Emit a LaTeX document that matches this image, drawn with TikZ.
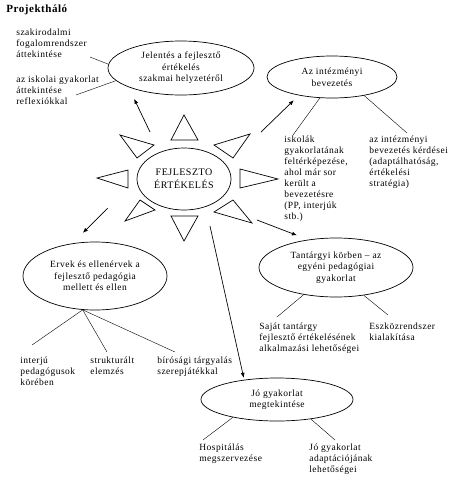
\documentclass[tikz,border=0pt]{standalone}
\usepackage{fontspec}
\setmainfont{Liberation Serif}[LetterSpace=5]
\usetikzlibrary{arrows.meta,shapes.geometric}

\begin{document}
\begin{tikzpicture}[x=1pt, y=-1pt, line width=0.7pt,
    bubble/.style={draw, ellipse, inner sep=0pt, align=center, font=\fontsize{9.5}{11.5}\selectfont},
    leaf/.style={anchor=north west, inner sep=0pt, align=left, font=\fontsize{9.5}{11}\selectfont},
    arr/.style={-{Latex[length=5pt, width=4pt]}}]
    \useasboundingbox (0,0) rectangle (455,480);

    % Title
    \node[anchor=west, inner sep=0pt, font=\fontsize{11}{13}\selectfont\bfseries] (title) at (6, 10) {Projektháló};

    % Ellipses
    \node[bubble, minimum width=146pt, minimum height=54pt] (jel) at (181, 68) {Jelentés a fejlesztő\\értékelés\\szakmai helyzetéről};
    \node[bubble, minimum width=130pt, minimum height=42pt] (intz) at (332, 77) {Az intézményi\\bevezetés};
    \node[bubble, minimum width=94pt, minimum height=62pt, font=\fontsize{10}{13}\selectfont] (sun) at (184, 179) {FEJLESZTO\\ÉRTÉKELÉS};
    \node[bubble, minimum width=144pt, minimum height=68pt] (erv) at (95, 276) {Ervek és ellenérvek a\\fejlesztő pedagógia\\mellett és ellen};
    \node[bubble, minimum width=154pt, minimum height=59pt] (tan) at (336, 267.5) {Tantárgyi körben -- az\\egyéni pedagógiai\\gyakorlat};
    \node[bubble, minimum width=152pt, minimum height=43pt] (jo) at (277, 399.5) {Jó gyakorlat\\megtekintése};

    % Rays of the sun
    \draw (184,115) -- (171,140) -- (198,140) -- cycle;
    \draw (171,216) -- (198,216) -- (184,241) -- cycle;
    \draw (97,178) -- (128,170) -- (128,188) -- cycle;
    \draw (240,169) -- (240,188) -- (278,179) -- cycle;
    \draw (120,135) -- (154,145) -- (137,158) -- cycle;
    \draw (250,134) -- (214,145) -- (233,158) -- cycle;
    \draw (125,221) -- (140,200) -- (155,210) -- cycle;
    \draw (252,223) -- (214,212) -- (233,200) -- cycle;

    % Leaves
    \node[leaf] (szak) at (16, 29) {szakirodalmi\\fogalomrendszer\\áttekintése};
    \node[leaf] (iskai) at (16, 76) {az iskolai gyakorlat\\áttekintése\\reflexiókkal};
    \node[leaf] (isk) at (284, 136) {iskolák\\gyakorlatának\\feltérképezése,\\ahol már sor\\került a\\bevezetésre\\(PP, interjúk\\stb.)};
    \node[leaf] (intk) at (369, 136) {az intézményi\\bevezetés kérdései\\(adaptálhatóság,\\értékelési\\stratégia)};
    \node[leaf] (interju) at (20, 357) {interjú\\pedagógusok\\körében};
    \node[leaf] (strukt) at (90, 357) {strukturált\\elemzés};
    \node[leaf] (biro) at (157, 357) {bírósági tárgyalás\\szerepjátékkal};
    \node[leaf] (sajat) at (259, 323) {Saját tantárgy\\fejlesztő értékelésének\\alkalmazási lehetőségei};
    \node[leaf] (eszk) at (369, 323) {Eszközrendszer\\kialakítása};
    \node[leaf] (hosp) at (199, 444) {Hospitálás\\megszervezése};
    \node[leaf] (adapt) at (309, 444) {Jó gyakorlat\\adaptációjának\\lehetőségei};

    % Arrows from the sun
    \coordinate (r-jel) at (150, 132);
    \coordinate (r-intz) at (261, 132);
    \coordinate (r-erv) at (108, 208);
    \coordinate (r-tan) at (257, 220);
    \coordinate (r-jo) at (210, 226);
    \draw[arr, shorten >=13pt] (r-jel) -- (jel.200);
    \draw[arr, shorten >=7pt] (r-intz) -- (intz.209);
    \draw[arr, shorten >=15pt] (r-erv) -- (erv.125);
    \draw[arr, shorten >=12pt] (r-tan) -- (tan.135);
    \draw[arr, shorten >=2pt] (r-jo) -- (jo.149);

    % Lines to the leaves
    \coordinate (szak-e) at (90, 57);
    \coordinate (iskai-e) at (76, 95);
    \coordinate (isk-e) at (293, 135);
    \coordinate (intk-e) at (407, 133);
    \coordinate (interju-e) at (32, 345);
    \coordinate (strukt-e) at (107, 352);
    \coordinate (biro-e) at (175, 352);
    \coordinate (sajat-e) at (277, 317);
    \coordinate (eszk-e) at (388, 315);
    \coordinate (hosp-e) at (203, 440);
    \coordinate (adapt-e) at (335, 440);
    \draw[thin] (jel.177) -- (szak-e);
    \draw[thin] (jel.191) -- (iskai-e);
    \draw[thin] (intz.240) -- (isk-e);
    \draw[thin] (intz.330) -- (intk-e);
    \draw[thin] (erv.250) -- (interju-e);
    \draw[thin] (erv.250) -- (strukt-e);
    \draw[thin] (erv.250) -- (biro-e);
    \draw[thin] (tan.220) -- (sajat-e);
    \draw[thin] (tan.315) -- (eszk-e);
    \draw[thin] (jo.202) -- (hosp-e);
    \draw[thin] (jo.330) -- (adapt-e);
\end{tikzpicture}
\end{document}
